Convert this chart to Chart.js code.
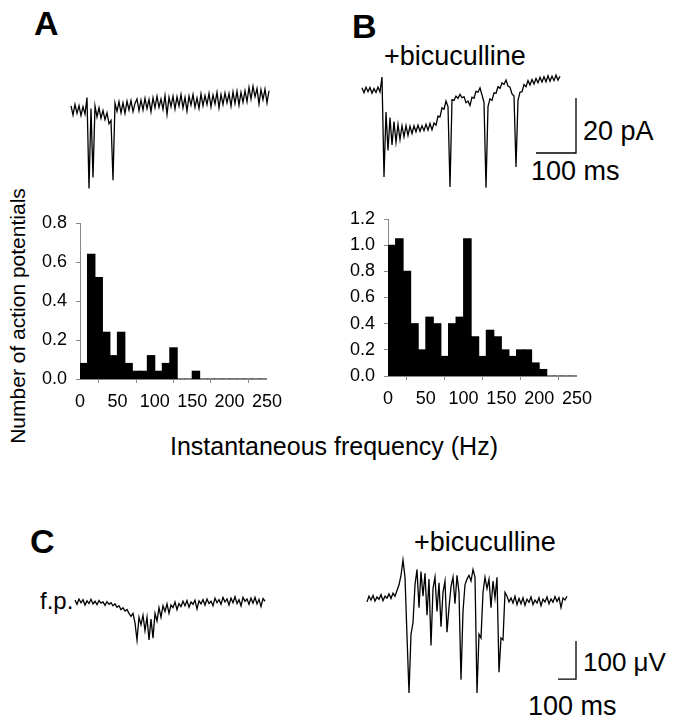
<!DOCTYPE html>
<html>
<head>
<meta charset="utf-8">
<script src="https://cdn.jsdelivr.net/npm/chart.js@4.4.1/dist/chart.umd.min.js"></script>
<style>
    body {
        margin: 0;
        background: #fff;
        width: 674px;
        height: 720px;
        position: relative;
        overflow: hidden;
        font-family: "Liberation Sans", Arial, sans-serif;
        color: #000;
    }
    canvas { position: absolute; }
    .t { position: absolute; line-height: 1; white-space: nowrap; }
    .panel { font-weight: bold; font-size: 34px; }
</style>
</head>
<body>

<div class="t panel" style="left:34px;top:6px">A</div>
<div class="t panel" style="left:352px;top:9px">B</div>
<div class="t panel" style="left:30px;top:524px">C</div>

<div class="t" style="left:384px;top:43px;font-size:27px">+bicuculline</div>
<div class="t" style="left:583px;top:118px;font-size:27px">20 pA</div>
<div class="t" style="left:531px;top:158px;font-size:27px">100 ms</div>

<div class="t" style="left:17px;top:316px;font-size:21px;transform:translate(-50%,-50%) rotate(-90deg)">Number of action potentials</div>
<div class="t" style="left:170px;top:434px;font-size:25px">Instantaneous frequency (Hz)</div>

<div class="t" style="left:40px;top:589px;font-size:24px">f.p.</div>
<div class="t" style="left:414px;top:529px;font-size:27px">+bicuculline</div>
<div class="t" style="left:583px;top:649px;font-size:26px">100 &mu;V</div>
<div class="t" style="left:528px;top:693px;font-size:27px">100 ms</div>

<canvas id="traceA" width="260" height="130" style="left:40px;top:70px"></canvas>
<canvas id="traceB" width="250" height="140" style="left:350px;top:60px"></canvas>
<canvas id="histA" width="270" height="230" style="left:20px;top:200px"></canvas>
<canvas id="histB" width="270" height="234" style="left:330px;top:196px"></canvas>
<canvas id="traceC1" width="230" height="100" style="left:60px;top:560px"></canvas>
<canvas id="traceC2" width="245" height="160" style="left:355px;top:545px"></canvas>

<script>
// histogram bins (Hz, lower edge) and counts
const binStartsHz = [0, 10, 20, 30, 40, 50, 60, 70, 80, 90, 100, 110, 120, 130, 140, 150, 160, 170, 180, 190, 200, 210, 220, 230, 240];
const countsA = [0.08, 0.64, 0.52, 0.24, 0.12, 0.24, 0.08, 0.04, 0.04, 0.12, 0.04, 0.08, 0.16, 0, 0, 0.04, 0, 0, 0, 0, 0, 0, 0, 0, 0];
const countsB = [1.0, 1.05, 0.8, 0.4, 0.2, 0.45, 0.4, 0.15, 0.4, 0.45, 1.05, 0.3, 0.15, 0.35, 0.3, 0.2, 0.15, 0.2, 0.2, 0.1, 0.05, 0, 0, 0, 0];
const freqTicks = [0, 50, 100, 150, 200, 250];
const yTicksA = [0.0, 0.2, 0.4, 0.6, 0.8];
const yTicksB = [0.0, 0.2, 0.4, 0.6, 0.8, 1.0, 1.2];

// current traces (pA), one sample every 5 ms
const sampleMsAB = 5;
const traceAValues = [
    1.5, -1.8, 2.0, -1.2, 1.6, -2.0, 1.2, -1.5, 4.5, -28.5,
    0.5, -24.5, 1.5, -2.5, 0.8, -3.0, -0.2, -3.5, -1.0, -5.0,
    -3.8, -25.5, 2.5, -0.5, 3.0, -1.0, 2.6, -1.2, 3.2, 0.0,
    3.4, -0.6, 2.4, 4.0, -0.2, 3.6, 0.0, 4.2, 0.5, 3.8,
    -0.6, 4.4, 0.8, 5.0, 1.0, 4.0, 0.2, 5.2, -1.6, 4.6,
    1.2, 5.0, 0.4, 4.8, 1.4, 5.6, 0.8, 4.6, -0.4, 5.0,
    1.8, 5.6, 1.0, 4.4, 0.6, 5.8, 1.6, 5.2, 2.0, 6.0,
    1.2, 5.4, 2.2, 6.4, 0.8, 5.6, 2.0, 6.2, 2.6, 6.0,
    1.4, 6.6, 2.4, 6.8, 1.8, 6.4, 2.8, 7.0, 3.0, 8.2,
    4.0, 8.6, 4.8, 7.8, 2.2, 7.4, 3.8, 7.6, 2.6, 7.0
];
const traceBValues = [
    0.8, -1.0, 1.0, -0.6, 0.9, -1.2, 0.5, -0.9, 1.1, -0.7,
    4.7, -31.6, -8.0, -22.0, -10.0, -20.0, -11.5, -19.0, -12.5, -18.0,
    -13.0, -17.0, -13.0, -16.5, -13.2, -15.8, -13.0, -15.2, -12.8, -15.0,
    -13.0, -14.8, -12.5, -14.6, -12.2, -14.5, -12.0, -12.8, -9.5, -9.8,
    -6.5, -7.0, -4.0, -6.0, -35.3, -3.5, -3.8, -2.2, -3.0, -1.6,
    -2.8, -2.4, -4.6, -4.0, -5.6, -2.6, -3.0, -0.5, -0.8, 0.8,
    -1.8, -4.5, -35.5, -6.0, -3.2, -3.8, -1.0, -1.2, 1.2, 0.6,
    2.6, 2.0, 3.6, 1.4, 1.0, -1.4, -2.2, -28.0, -3.8, -0.8,
    -0.6, 2.0, 1.2, 3.4, 1.8, 3.8, 2.2, 4.2, 2.6, 4.6,
    2.9, 4.8, 3.0, 5.2, 3.2, 5.0, 3.4, 5.4, 3.6, 5.0
];

// field potentials (µV), one sample every 11.1 ms
const sampleMsC = 11.1;
const fieldControlValues = [
    5, -6, 8, -2, 6, -8, 3, -4, 7, -5,
    2, -7, 4, -3, 0, -9, 1, -6, -2, -10,
    -5, -14, -10, -20, -15, -24, -20, -30, -38, -30,
    -55, -100, -40, -60, -35, -75, -40, -100, -45, -95,
    -30, -50, -15, -40, -10, -25, -5, -30, -8, -15,
    0, -20, -4, -12, 2, -10, 4, -14, 0, -6,
    5, -18, 3, -5, 6, -8, 8, -4, 2, -10,
    10, -2, 6, -6, 12, 0, 8, -8, 10, -2,
    14, -4, 6, -10, 12, 2, 8, -6, 10, -3,
    12, -5, 7, -12, 9, 2
];
const fieldBicValues = [
    -5, 10, 0, 12, -3, 8, 2, 14, -2, 10,
    5, 16, 4, 18, 10, 25, 40, 65, 105, 60,
    -95, -245, -90, -60, 40, 80, -20, 75, 10, 70,
    -40, 55, -120, 30, 60, -30, 45, -70, 20, 50,
    -85, -20, 35, 60, -10, 65, 20, -210, -30, 40,
    55, 65, 50, 80, 60, -245, -90, -100, 20, 60,
    30, 55, -20, 50, 5, 60, -190, -100, -105, 20,
    10, -5, 5, -8, 10, -12, 4, -10, 6, -14,
    2, -6, 8, -12, 0, -8, 6, -15, 2, -5,
    8, -10, 3, -6, 9, -4, 6, -20, 5, 0, 10
];

// scale bars: lengths in data units
const scaleBarMs = 100;
const scaleBarPA = 20;
const scaleBarUV = 100;

const FONT = '"Liberation Sans", Arial, sans-serif';

// map canvas pixels to data range: zeroPx is where value 0 sits
function xRange(canvasLeft, zeroPx, width, perPx) {
    const min = (canvasLeft - zeroPx) * perPx;
    return { min: min, max: min + width * perPx };
}
function yRange(canvasTop, zeroPx, height, perPx) {
    const max = (zeroPx - canvasTop) * perPx;
    return { min: max - height * perPx, max: max };
}

function toPoints(values, dt) {
    return values.map((v, i) => ({ x: i * dt, y: v }));
}

function scaleBar(t0, v0, lenX, lenY) {
    return [{ x: t0, y: v0 }, { x: t0 + lenX, y: v0 }, { x: t0 + lenX, y: v0 + lenY }];
}

function traceChart(id, datasets, xr, yr) {
    const ctx = document.getElementById(id).getContext('2d');
    return new Chart(ctx, {
        type: 'line',
        data: {
            datasets: datasets.map(d => ({
                data: d,
                borderColor: '#000',
                borderWidth: 1.3,
                pointRadius: 0,
                tension: 0,
                fill: false
            }))
        },
        options: {
            responsive: false,
            animation: false,
            layout: { padding: 0 },
            plugins: { legend: { display: false }, tooltip: { enabled: false } },
            scales: {
                x: { type: 'linear', display: false, min: xr.min, max: xr.max },
                y: { display: false, min: yr.min, max: yr.max }
            }
        }
    });
}

function histChart(id, counts, yTicks, area) {
    const ctx = document.getElementById(id).getContext('2d');
    const yMax = yTicks[yTicks.length - 1];
    return new Chart(ctx, {
        type: 'bar',
        data: {
            datasets: [{
                data: binStartsHz.map((b, i) => ({ x: b + 5, y: counts[i] })),
                backgroundColor: '#000',
                borderWidth: 0,
                barPercentage: 1,
                categoryPercentage: 1,
                inflateAmount: 0.5
            }]
        },
        options: {
            responsive: false,
            animation: false,
            layout: { padding: { top: area.top, right: area.right, left: 0, bottom: 0 } },
            plugins: { legend: { display: false }, tooltip: { enabled: false } },
            scales: {
                x: {
                    type: 'linear',
                    offset: false,
                    min: 0,
                    max: 250,
                    afterBuildTicks: s => { s.ticks = freqTicks.map(v => ({ value: v })); },
                    grid: { display: true, drawOnChartArea: false, tickLength: 4, color: '#888' },
                    border: { color: '#888', width: 1 },
                    ticks: {
                        color: '#000',
                        padding: 8,
                        maxRotation: 0,
                        autoSkip: false,
                        font: { family: FONT, size: 18 }
                    },
                    afterFit: s => { s.height = area.bottom; }
                },
                y: {
                    min: 0,
                    max: yMax,
                    afterBuildTicks: s => { s.ticks = yTicks.map(v => ({ value: v })); },
                    grid: { display: true, drawOnChartArea: false, tickLength: 4, color: '#888' },
                    border: { color: '#888', width: 1 },
                    ticks: {
                        color: '#000',
                        padding: 9,
                        autoSkip: false,
                        font: { family: FONT, size: 18 },
                        callback: v => v.toFixed(1)
                    },
                    afterFit: s => { s.width = area.left; }
                }
            }
        }
    });
}

// A / B currents: 2.5 ms per px, 2.75 px per pA
const msPerPxAB = 2.5;
const pAPerPx = 1 / 2.75;
traceChart('traceA', [toPoints(traceAValues, sampleMsAB)],
    xRange(40, 71, 260, msPerPxAB), yRange(70, 110, 130, pAPerPx));
traceChart('traceB', [
    toPoints(traceBValues, sampleMsAB),
    scaleBar(435, -22.9, scaleBarMs, scaleBarPA)
], xRange(350, 362, 250, msPerPxAB), yRange(60, 90, 140, pAPerPx));

histChart('histA', countsA, yTicksA, { left: 60, top: 23, right: 15, bottom: 51 });
histChart('histB', countsB, yTicksB, { left: 58, top: 23, right: 19, bottom: 54 });

// C field potentials: 5.55 ms per px, 0.38 px per µV
const msPerPxC = 5.55;
const uVPerPx = 1 / 0.38;
traceChart('traceC1', [toPoints(fieldControlValues, sampleMsC)],
    xRange(60, 75, 230, msPerPxC), yRange(560, 602, 100, uVPerPx));
traceChart('traceC2', [
    toPoints(fieldBicValues, sampleMsC),
    scaleBar(1060, -208, scaleBarMs, scaleBarUV)
], xRange(355, 367, 245, msPerPxC), yRange(545, 600, 160, uVPerPx));
</script>
</body>
</html>
